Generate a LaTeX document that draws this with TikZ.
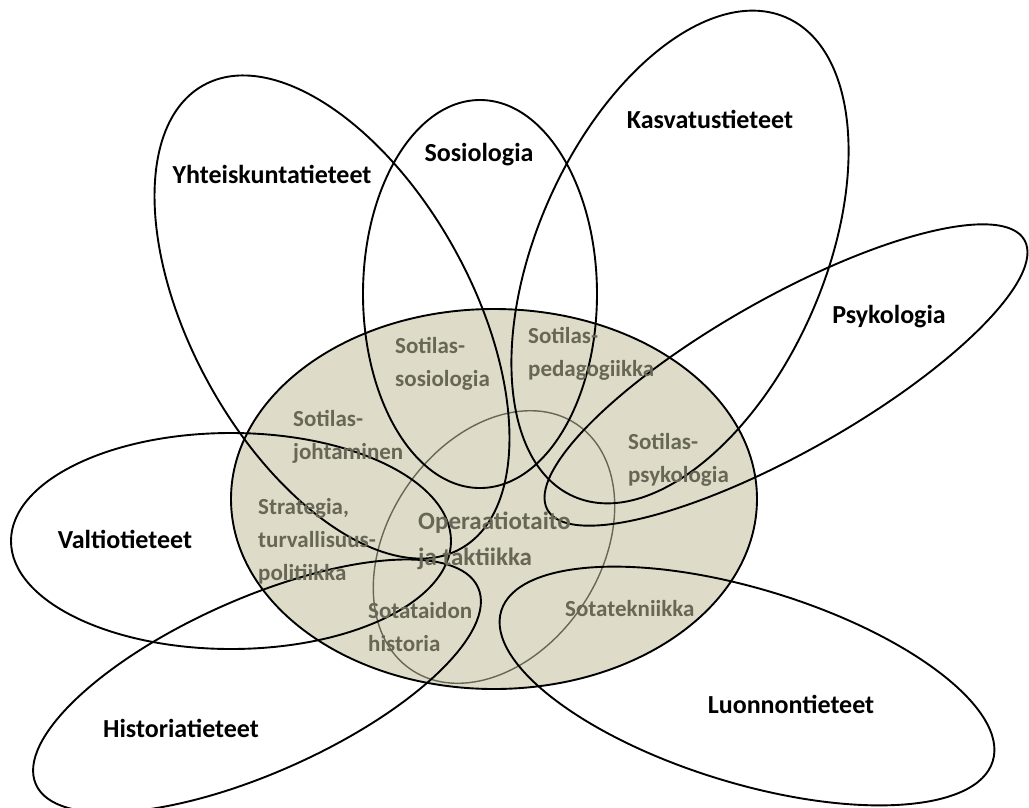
\documentclass[tikz,border=0pt]{standalone}
\usepackage{fontspec}
\setmainfont{Carlito}
\definecolor{khaki}{RGB}{222,220,201}
\definecolor{olive}{RGB}{104,103,86}

\begin{document}
\begin{tikzpicture}[x=1pt,y=-1pt]
\tikzset{
  petal/.style={draw=black, line width=1.9pt},
  field/.style={font=\fontsize{26}{26}\selectfont\bfseries, anchor=base, inner sep=0pt},
  sub/.style={font=\fontsize{23}{33}\selectfont\bfseries, text=olive, align=left, anchor=north west, inner sep=0pt},
  subbig/.style={sub, font=\fontsize{25}{36}\selectfont\bfseries}
}
\useasboundingbox (0,0) rectangle (1029,807);

\coordinate (S) at (494,499);
\coordinate (O) at (494,547);
\coordinate (Y) at (332,317);
\coordinate (So) at (480,294);
\coordinate (K) at (680,257);
\coordinate (P) at (786,375);
\coordinate (V) at (231,541);
\coordinate (H) at (257,686);
\coordinate (L) at (747,686);

% sotatieteet
\filldraw[petal, fill=khaki] (S) ellipse [x radius=263, y radius=190];
\draw[olive, line width=1.4pt, shift={(O)}, rotate=-34] (0,0) ellipse [x radius=106, y radius=148];

\begin{scope}[petal]
\draw[shift={(Y)}, rotate=29] (0,0) ellipse [x radius=140, y radius=265];
\draw[shift={(So)}] (0,0) ellipse [x radius=117, y radius=194];
\draw[shift={(K)}, rotate=-24] (0,0) ellipse [x radius=143, y radius=262];
\draw[shift={(P)}, rotate=29.5] (0,0) ellipse [x radius=274, y radius=77];
\draw[shift={(V)}] (0,0) ellipse [x radius=220, y radius=108];
\draw[shift={(H)}, rotate=24] (0,0) ellipse [x radius=242, y radius=87];
\draw[shift={(L)}, rotate=-17] (0,0) ellipse [x radius=257, y radius=97];
\end{scope}

\node[field] (Yl) at (272,183) {Yhteiskuntatieteet};
\node[field] (Sol) at (479,161) {Sosiologia};
\node[field] (Kl) at (710,128) {Kasvatustieteet};
\node[field] (Pl) at (889,323) {Psykologia};
\node[field] (Vl) at (125,548) {Valtiotieteet};
\node[field] (Hl) at (181,737) {Historiatieteet};
\node[field] (Ll) at (791,713) {Luonnontieteet};

\node[sub] (Sos) at (395,337) {Sotilas-\\sosiologia};
\node[sub] (Joh) at (293,410) {Sotilas-\\johtaminen};
\node[sub] (Ped) at (528,327) {Sotilas-\\pedagogiikka};
\node[sub] (Psy) at (628,433) {Sotilas-\\psykologia};
\node[sub] (Str) at (258,498) {Strategia,\\turvallisuus-\\politiikka};
\node[subbig] (Ope) at (418,512) {Operaatiotaito\\ja taktiikka};
\node[sub] (His) at (368,602) {Sotataidon\\historia};
\node[sub] (Tek) at (565,600) {Sotatekniikka};
\end{tikzpicture}
\end{document}
